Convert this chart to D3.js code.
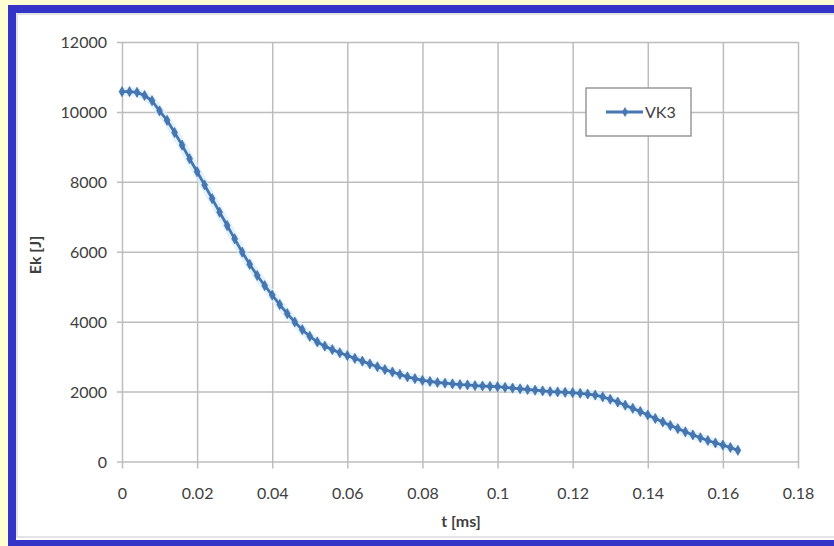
<!DOCTYPE html>
<html>
<head>
<meta charset="utf-8">
<script src="https://cdn.jsdelivr.net/npm/d3@7"></script>
<style>
  html, body { margin: 0; padding: 0; background: #fffdd2; }
  svg { display: block; }
  text { font-family: Lato, "Open Sans", sans-serif; }
</style>
</head>
<body>
<svg id="chart" width="834" height="546"></svg>
<script>
// Time samples [ms]
const timeMs = [
  0.000, 0.002, 0.004, 0.006, 0.008, 0.010, 0.012, 0.014, 0.016, 0.018,
  0.020, 0.022, 0.024, 0.026, 0.028, 0.030, 0.032, 0.034, 0.036, 0.038,
  0.040, 0.042, 0.044, 0.046, 0.048, 0.050, 0.052, 0.054, 0.056, 0.058,
  0.060, 0.062, 0.064, 0.066, 0.068, 0.070, 0.072, 0.074, 0.076, 0.078,
  0.080, 0.082, 0.084, 0.086, 0.088, 0.090, 0.092, 0.094, 0.096, 0.098,
  0.100, 0.102, 0.104, 0.106, 0.108, 0.110, 0.112, 0.114, 0.116, 0.118,
  0.120, 0.122, 0.124, 0.126, 0.128, 0.130, 0.132, 0.134, 0.136, 0.138,
  0.140, 0.142, 0.144, 0.146, 0.148, 0.150, 0.152, 0.154, 0.156, 0.158,
  0.160, 0.162, 0.164
];

// Kinetic energy of VK3 [J]
const ekVK3 = [
  10580, 10580, 10560, 10470, 10320, 10030, 9760, 9410, 9050, 8660,
  8290, 7910, 7520, 7130, 6750, 6370, 5990, 5640, 5320, 5030,
  4760, 4490, 4230, 3990, 3770, 3580, 3420, 3300, 3200, 3110,
  3030, 2950, 2870, 2790, 2710, 2630, 2560, 2490, 2420, 2370,
  2320, 2290, 2260, 2240, 2220, 2200, 2190, 2170, 2160, 2150,
  2140, 2120, 2100, 2080, 2060, 2040, 2020, 2000, 1990, 1980,
  1970, 1950, 1930, 1900, 1850, 1780, 1700, 1610, 1520, 1430,
  1330, 1230, 1130, 1030, 940, 850, 760, 680, 600, 530,
  470, 400, 320
];

const xTicks = [0, 0.02, 0.04, 0.06, 0.08, 0.1, 0.12, 0.14, 0.16, 0.18];
const yTicks = [0, 2000, 4000, 6000, 8000, 10000, 12000];
const seriesName = "VK3";
const xTitle = "t [ms]";
const yTitle = "Ek [J]";

const svg = d3.select("#chart");
const lineColor = "#4677b3";
const gridColor = "#bdbdbd";
const textColor = "#404040";

// Page frame
svg.append("rect").attr("x", 8).attr("y", 5).attr("width", 840).attr("height", 560)
  .attr("fill", "#3434c8");
svg.append("rect").attr("x", 16).attr("y", 13).attr("width", 830).attr("height", 527)
  .attr("fill", "#ffffff");
svg.append("rect").attr("x", 17).attr("y", 14).attr("width", 830).attr("height", 523)
  .attr("fill", "none").attr("stroke", "#d0d0d0").attr("stroke-width", 1.2);

const x = d3.scaleLinear().domain([0, 0.18]).range([122, 798]);
const y = d3.scaleLinear().domain([0, 12000]).range([461.5, 42]);

// Vertical gridlines with tick marks below the axis
const xAxis = d3.axisBottom(x).tickValues(xTicks).tickSizeOuter(0)
  .tickFormat(d3.format("~g"));
const gx = svg.append("g").attr("transform", `translate(0,${y(0)})`).call(xAxis);
gx.select(".domain").remove();
gx.selectAll(".tick line").attr("stroke", gridColor).attr("stroke-width", 1.5)
  .attr("y2", -(y(0) - y(12000))).attr("y1", 7);
gx.selectAll(".tick text").attr("y", 37).attr("dy", 0)
  .attr("fill", textColor).style("font-size", "16px");

// Horizontal gridlines with tick marks left of the axis
const yAxis = d3.axisLeft(y).tickValues(yTicks).tickSizeOuter(0)
  .tickFormat(d3.format("d"));
const gy = svg.append("g").attr("transform", `translate(${x(0)},0)`).call(yAxis);
gy.select(".domain").remove();
gy.selectAll(".tick line").attr("stroke", gridColor).attr("stroke-width", 1.5)
  .attr("x1", -5).attr("x2", x(0.18) - x(0));
gy.selectAll(".tick text").attr("x", -15).attr("dy", "0.35em")
  .attr("fill", textColor).style("font-size", "16px");

// Axis titles
svg.append("text").attr("x", 461).attr("y", 527).attr("text-anchor", "middle")
  .attr("fill", textColor).style("font-size", "16px").style("font-weight", "bold")
  .text(xTitle);
svg.append("text").attr("transform", "translate(41,255) rotate(-90)")
  .attr("text-anchor", "middle").attr("fill", textColor)
  .style("font-size", "16px").style("font-weight", "bold").text(yTitle);

// Series
const data = timeMs.map((t, i) => ({ t, e: ekVK3[i] }));
const line = d3.line().x(d => x(d.t)).y(d => y(d.e));

svg.append("path").datum(data).attr("d", line).attr("fill", "none")
  .attr("stroke", "#d6ecfa").attr("stroke-width", 9).attr("stroke-linejoin", "round")
  .attr("opacity", 0.7);
svg.append("path").datum(data).attr("d", line).attr("fill", "none")
  .attr("stroke", lineColor).attr("stroke-width", 2.8).attr("stroke-linejoin", "round");

const diamond = d3.symbol().type(d3.symbolDiamond).size(30);
svg.append("g").selectAll("path").data(data).join("path")
  .attr("transform", d => `translate(${x(d.t)},${y(d.e)})`)
  .attr("d", diamond).attr("fill", lineColor).attr("stroke", "#3b6aa3").attr("stroke-width", 0.6);

// Legend
const lg = svg.append("g");
lg.append("rect").attr("x", 586).attr("y", 88).attr("width", 105).attr("height", 48)
  .attr("fill", "#ffffff").attr("stroke", "#8a8a8a").attr("stroke-width", 1.3);
lg.append("line").attr("x1", 606).attr("x2", 643).attr("y1", 112).attr("y2", 112)
  .attr("stroke", lineColor).attr("stroke-width", 2.8);
lg.append("path").attr("transform", "translate(625,112)").attr("d", diamond)
  .attr("fill", lineColor);
lg.append("text").attr("x", 645).attr("y", 112).attr("dy", "0.35em")
  .attr("fill", textColor).style("font-size", "16px").text(seriesName);
</script>
</body>
</html>
